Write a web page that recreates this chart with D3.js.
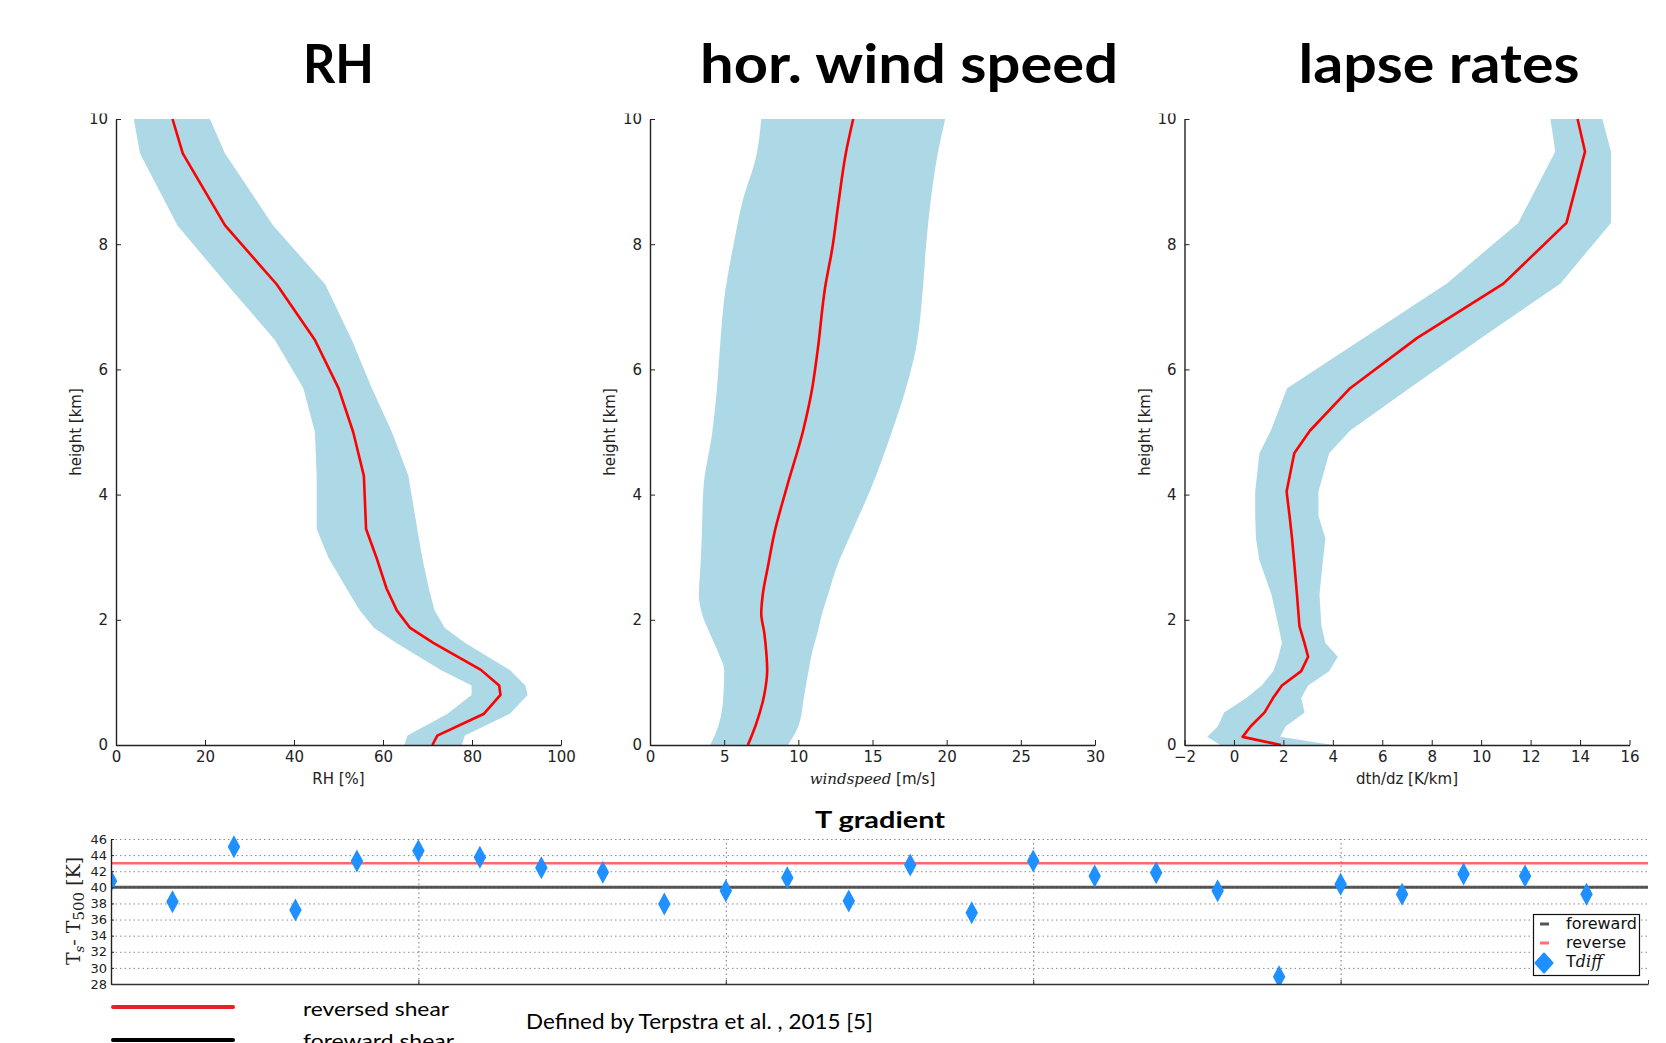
<!DOCTYPE html>
<html>
<head>
<meta charset="utf-8">
<script src="https://cdn.jsdelivr.net/npm/d3@7"></script>
<style>
  body { margin: 0; background: #fff; }
  svg { display: block; }
</style>
</head>
<body>
<div id="chart"></div>
<script>
// RH profile (height in km, RH in %)
const rhHeight = [0, 0.15, 0.5, 0.8, 0.95, 1.2, 1.63, 1.87, 2.15, 2.5, 3.0, 3.45, 4.3, 5.0, 5.7, 6.47, 7.36, 8.3, 9.45, 10];
const rhMean   = [71.1, 72.2, 82.7, 86.4, 86.1, 82, 71.3, 66.1, 63.1, 60.8, 58.5, 56.2, 55.7, 53.3, 50, 44.7, 36.1, 24.5, 15, 12.7];
const rhLow    = [64.8, 65.5, 74.5, 79.9, 79.9, 73, 63, 58, 54.8, 51.8, 47.7, 45.1, 45.1, 44.7, 42.1, 35.7, 24.9, 13.8, 5.4, 4];
const rhHigh   = [77.7, 78.4, 88.5, 92.5, 92, 88.5, 78.5, 73.9, 71.6, 70.3, 68.8, 67.7, 65.7, 62, 57.5, 53, 47, 35.3, 24.5, 21.1];

// horizontal wind speed profile (m/s)
const windHeight = [0, 0.3, 0.8, 1.2, 1.45, 1.8, 2.1, 2.4, 2.85, 3.4, 4.1, 5.0, 5.65, 6.3, 7.3, 7.95, 8.65, 9.45, 10];
const windMean   = [6.6, 7.1, 7.7, 7.9, 7.85, 7.7, 7.5, 7.6, 7.95, 8.4, 9.2, 10.3, 10.9, 11.3, 11.8, 12.3, 12.7, 13.2, 13.7];
const windLow    = [4.06, 4.6, 4.95, 5.0, 4.65, 4.0, 3.5, 3.3, 3.4, 3.5, 3.6, 4.2, 4.5, 4.7, 5.1, 5.6, 6.2, 7.2, 7.5];
const windHigh   = [9.3, 10.0, 10.4, 10.7, 10.9, 11.3, 11.6, 12.0, 12.6, 13.6, 14.9, 16.3, 17.2, 17.9, 18.4, 18.6, 18.9, 19.4, 19.9];

// lapse rates dth/dz (K/km)
const lapseHeight = [0, 0.13, 0.3, 0.52, 0.75, 0.95, 1.18, 1.41, 1.63, 1.9, 2.4, 2.95, 3.3, 3.66, 4.05, 4.66, 5.02, 5.7, 6.5, 7.37, 8.34, 9.48, 10];
const lapseMean   = [1.9, 0.35, 0.68, 1.24, 1.58, 1.94, 2.72, 3.0, 2.85, 2.65, 2.55, 2.43, 2.35, 2.25, 2.13, 2.44, 3.07, 4.7, 7.4, 10.9, 13.45, 14.2, 13.9];
const lapseLow    = [-0.55, -1.08, -0.65, -0.4, 0.5, 1.12, 1.59, 1.8, 1.94, 1.8, 1.52, 1.03, 0.89, 0.86, 0.86, 1.03, 1.49, 2.15, 5.25, 8.6, 11.5, 13.0, 12.8];
const lapseHigh   = [4.0, 1.87, 2.1, 2.86, 2.72, 3.0, 3.85, 4.2, 3.7, 3.54, 3.46, 3.6, 3.7, 3.42, 3.42, 3.85, 4.69, 7.1, 10.0, 13.2, 15.25, 15.25, 14.9];

// tick labels
const heightTicks = [0, 2, 4, 6, 8, 10];
const rhTicks = [0, 20, 40, 60, 80, 100];
const windTicks = [0, 5, 10, 15, 20, 25, 30];
const lapseTicks = [-2, 0, 2, 4, 6, 8, 10, 12, 14, 16];

// T gradient (Ts - T500) per case
const tdiffValues = [40.8, 38.2, 45.05, 37.2, 43.27, 44.55, 43.73, 42.44, 41.87, 37.94, 39.59, 41.2, 38.3,
  42.77, 36.86, 43.27, 41.4, 41.82, 39.59, 28.9, 40.38, 39.14, 41.66, 41.41, 39.14];
const tdiffTicks = [28, 30, 32, 34, 36, 38, 40, 42, 44, 46];
const caseGridTicks = [5, 10, 15, 20, 25];
const forewardLevel = 40;
const reverseLevel = 43;

const W = 1666, H = 1043;
const svg = d3.select('#chart').append('svg')
  .attr('width', W).attr('height', H)
  .attr('viewBox', `0 0 ${W} ${H}`);

const tickFont = 'DejaVu Sans, sans-serif';
const axisColor = '#222';

// ---- three profile panels ----
const pTop = 119, pBottom = 745, pw = 445;
const panels = [
  { title: 'RH', h: rhHeight, mean: rhMean, lo: rhLow, hi: rhHigh, domain: [0, 100], ticks: rhTicks,
    left: 116, titleX: 338.5, titleLen: 71, ylabX: 81, curve: d3.curveLinear },
  { title: 'hor. wind speed', h: windHeight, mean: windMean, lo: windLow, hi: windHigh, domain: [0, 30], ticks: windTicks,
    left: 650, titleX: 909, titleLen: 418, ylabX: 615, curve: d3.curveMonotoneY },
  { title: 'lapse rates', h: lapseHeight, mean: lapseMean, lo: lapseLow, hi: lapseHigh, domain: [-2, 16], ticks: lapseTicks,
    left: 1184.5, titleX: 1439, titleLen: 281, ylabX: 1150, curve: d3.curveLinear }
];

panels.forEach((p, k) => {
  const x = d3.scaleLinear().domain(p.domain).range([p.left, p.left + pw]);
  const y = d3.scaleLinear().domain([0, 10]).range([pBottom, pTop]);
  const idx = d3.range(p.h.length);

  svg.append('path')
    .datum(idx)
    .attr('fill', '#add8e6')
    .attr('d', d3.area().curve(p.curve)
      .y(i => y(p.h[i]))
      .x0(i => x(p.lo[i]))
      .x1(i => x(p.hi[i])));

  svg.append('path')
    .datum(idx)
    .attr('fill', 'none')
    .attr('stroke', '#ff0000')
    .attr('stroke-width', 2.6)
    .attr('stroke-linejoin', 'round')
    .attr('d', d3.line().curve(p.curve)
      .x(i => x(p.mean[i]))
      .y(i => y(p.h[i])));

  // axes (ticks pointing inward, like the classic matplotlib style)
  const gx = svg.append('g')
    .attr('transform', `translate(0,${pBottom})`)
    .call(d3.axisBottom(x).tickValues(p.ticks).tickSize(-5).tickSizeOuter(0).tickPadding(6));
  const gy = svg.append('g')
    .attr('transform', `translate(${p.left},0)`)
    .call(d3.axisLeft(y).tickValues(heightTicks).tickSize(-5).tickSizeOuter(0).tickPadding(8));
  [gx, gy].forEach(g => {
    g.attr('font-family', tickFont).attr('font-size', 15).attr('color', axisColor);
    g.select('.domain').attr('stroke-width', 1.4);
    g.selectAll('.tick line').attr('stroke-width', 1);
  });

  // titles
  svg.append('text')
    .attr('x', p.titleX).attr('y', 83)
    .attr('text-anchor', 'middle')
    .attr('font-family', 'Lato, Open Sans, sans-serif')
    .attr('font-weight', 'bold')
    .attr('font-size', 53)
    .attr('textLength', p.titleLen)
    .attr('lengthAdjust', 'spacingAndGlyphs')
    .text(p.title);

  // y label
  svg.append('text')
    .attr('transform', `translate(${p.ylabX},${432}) rotate(-90)`)
    .attr('text-anchor', 'middle')
    .attr('font-family', tickFont).attr('font-size', 15).attr('fill', axisColor)
    .text('height [km]');

  // x label
  const xl = svg.append('text')
    .attr('x', p.left + pw / 2).attr('y', 784)
    .attr('text-anchor', 'middle')
    .attr('font-family', tickFont).attr('font-size', 15).attr('fill', axisColor);
  if (k === 0) xl.text('RH [%]');
  if (k === 1) {
    xl.append('tspan').attr('font-family', 'DejaVu Serif, serif').attr('font-style', 'italic').text('windspeed');
    xl.append('tspan').text(' [m/s]');
  }
  if (k === 2) xl.text('dth/dz [K/km]');
});

// the top tick label "10" is cut off in the original figure
svg.append('rect').attr('x', 0).attr('y', 97).attr('width', W).attr('height', 16.5).attr('fill', '#fff');

// ---- T gradient panel ----
const bl = 111, br = 1648, bt = 839, bb = 984;
const xc = d3.scaleLinear().domain([0, 25]).range([bl, br]);
const yt = d3.scaleLinear().domain([28, 46]).range([bb, bt]);

svg.append('text')
  .attr('x', 880).attr('y', 828)
  .attr('text-anchor', 'middle')
  .attr('font-family', 'Lato, Open Sans, sans-serif')
  .attr('font-weight', 'bold').attr('font-size', 22)
  .attr('textLength', 130).attr('lengthAdjust', 'spacingAndGlyphs')
  .text('T gradient');

// dotted grid
svg.append('g')
  .attr('transform', `translate(${bl},0)`)
  .call(d3.axisLeft(yt).tickValues(tdiffTicks).tickSize(-(br - bl)).tickFormat(''))
  .call(g => g.select('.domain').remove())
  .selectAll('.tick line')
  .attr('stroke', '#8a8a8a').attr('stroke-width', 1).attr('stroke-dasharray', '1.5,3');
svg.append('g')
  .attr('transform', `translate(0,${bb})`)
  .call(d3.axisBottom(xc).tickValues(caseGridTicks.slice(0, 4)).tickSize(-(bb - bt)).tickFormat(''))
  .call(g => g.select('.domain').remove())
  .selectAll('.tick line')
  .attr('stroke', '#777').attr('stroke-width', 1).attr('stroke-dasharray', '1.5,3');

// reference levels
svg.append('line')
  .attr('x1', xc(0)).attr('x2', xc(25))
  .attr('y1', yt(reverseLevel)).attr('y2', yt(reverseLevel))
  .attr('stroke', '#ff4d4d').attr('stroke-opacity', 0.85).attr('stroke-width', 2.5);
svg.append('line')
  .attr('x1', xc(0)).attr('x2', xc(25))
  .attr('y1', yt(forewardLevel)).attr('y2', yt(forewardLevel))
  .attr('stroke', '#3a3a3a').attr('stroke-opacity', 0.85).attr('stroke-width', 3);

// diamonds, clipped to the axes box
svg.append('clipPath').attr('id', 'tclip')
  .append('rect').attr('x', bl).attr('y', bt - 20).attr('width', br - bl).attr('height', bb - bt + 20);

function diamond(w, h) {
  return `M0,${-h / 2}L${w / 2},0L0,${h / 2}L${-w / 2},0Z`;
}

svg.append('g').attr('clip-path', 'url(#tclip)')
  .selectAll('path')
  .data(tdiffValues)
  .enter()
  .append('path')
  .attr('transform', (d, i) => `translate(${xc(i)},${yt(d)})`)
  .attr('d', diamond(12.5, 23))
  .attr('fill', '#1e90ff');

// axes spines
const gyt = svg.append('g')
  .attr('transform', `translate(${bl},0)`)
  .call(d3.axisLeft(yt).tickValues(tdiffTicks).tickSize(-3).tickSizeOuter(0).tickPadding(4));
gyt.attr('font-family', tickFont).attr('font-size', 13).attr('color', axisColor);
gyt.select('.domain').attr('stroke-width', 1.4);

const gxt = svg.append('g')
  .attr('transform', `translate(0,${bb})`)
  .call(d3.axisBottom(xc).tickValues(caseGridTicks).tickSize(-4).tickSizeOuter(0).tickFormat(''));
gxt.attr('color', '#333');
gxt.select('.domain').attr('stroke-width', 1.4);

// y label Ts - T500 [K]
const tl = svg.append('text')
  .attr('transform', `translate(80,${911}) rotate(-90)`)
  .attr('text-anchor', 'middle')
  .attr('font-family', 'DejaVu Serif, Liberation Serif, serif')
  .attr('font-size', 19).attr('fill', axisColor);
tl.append('tspan').text('T');
tl.append('tspan').attr('font-size', 13).attr('font-style', 'italic').attr('dy', 4).text('s');
tl.append('tspan').attr('dy', -4).text('- T');
tl.append('tspan').attr('font-size', 15).attr('dy', 4).text('500');
tl.append('tspan').attr('dy', -4).text(' [K]');

// legend inside T gradient axes
const lg = svg.append('g');
lg.append('rect')
  .attr('x', 1533.5).attr('y', 914.5).attr('width', 106).attr('height', 61)
  .attr('fill', '#fff').attr('stroke', '#111').attr('stroke-width', 1.2);
const legendItems = [
  { label: 'foreward', color: '#555', kind: 'line' },
  { label: 'reverse', color: '#ff7070', kind: 'line' },
  { label: 'T', color: '#1e90ff', kind: 'marker' }
];
legendItems.forEach((it, i) => {
  const cy = 924 + i * 19;
  if (it.kind === 'line') {
    lg.append('line').attr('x1', 1540).attr('x2', 1549).attr('y1', cy).attr('y2', cy)
      .attr('stroke', it.color).attr('stroke-width', 3);
  } else {
    lg.append('path').attr('transform', `translate(1544,${cy + 1})`)
      .attr('d', diamond(17, 19)).attr('fill', it.color)
      .attr('stroke', it.color).attr('stroke-width', 2).attr('stroke-linejoin', 'round');
  }
  const t = lg.append('text')
    .attr('x', 1566).attr('y', cy + 5)
    .attr('font-family', tickFont).attr('font-size', 16).attr('fill', '#111')
    .text(it.label);
  if (it.kind === 'marker') {
    t.append('tspan').attr('font-family', 'DejaVu Serif, serif').attr('font-style', 'italic').text('diff');
  }
});

// ---- notes below the figure ----
svg.append('line').attr('x1', 113).attr('x2', 233).attr('y1', 1007).attr('y2', 1007)
  .attr('stroke', '#e8202a').attr('stroke-width', 4).attr('stroke-linecap', 'round');
svg.append('line').attr('x1', 113).attr('x2', 233).attr('y1', 1040).attr('y2', 1040)
  .attr('stroke', '#000').attr('stroke-width', 4).attr('stroke-linecap', 'round');

const noteFont = 'Lato, Open Sans, sans-serif';
svg.append('text').attr('x', 303).attr('y', 1016)
  .attr('font-family', noteFont).attr('font-size', 20)
  .attr('textLength', 146).attr('lengthAdjust', 'spacingAndGlyphs')
  .text('reversed shear');
svg.append('text').attr('x', 303).attr('y', 1048)
  .attr('font-family', noteFont).attr('font-size', 20)
  .attr('textLength', 151).attr('lengthAdjust', 'spacingAndGlyphs')
  .text('foreward shear');
svg.append('text').attr('x', 526).attr('y', 1029)
  .attr('font-family', noteFont).attr('font-size', 21)
  .attr('textLength', 347).attr('lengthAdjust', 'spacingAndGlyphs')
  .text('Defined by Terpstra et al. , 2015 [5]');
</script>
</body>
</html>
